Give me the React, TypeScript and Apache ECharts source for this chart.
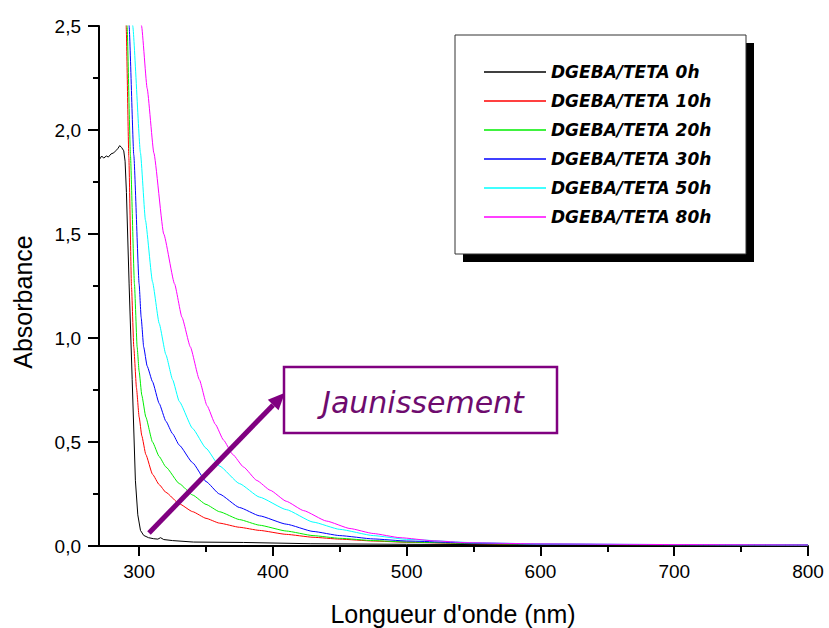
import React, { useEffect, useRef } from "react";
import * as echarts from "echarts";

// ---- Data ----
const seriesNames = [
  "DGEBA/TETA 0h",
  "DGEBA/TETA 10h",
  "DGEBA/TETA 20h",
  "DGEBA/TETA 30h",
  "DGEBA/TETA 50h",
  "DGEBA/TETA 80h",
];
const seriesColors = ["#000000", "#ff0000", "#00ee00", "#0000ff", "#00ffff", "#ff00ff"];

const wl0h = [270, 272, 273.5, 275.5, 277, 279, 281, 282.5, 284, 285.5, 287, 288.5, 289.5, 290.5, 292.5, 294.8, 297.2, 299, 301, 303.4, 307, 310.9, 314, 316, 318.4, 325, 340.7, 378, 427.8, 500, 600, 700, 800];
const abs0h = [1.855, 1.875, 1.865, 1.875, 1.87, 1.885, 1.89, 1.9, 1.91, 1.925, 1.915, 1.9, 1.85, 1.7, 1.26, 0.8, 0.316, 0.15, 0.075, 0.051, 0.04, 0.035, 0.033, 0.04, 0.031, 0.026, 0.019, 0.017, 0.011, 0.008, 0.006, 0.005, 0.004];

const wl10h = [289.8, 290.3, 292.3, 294.3, 296, 298, 300, 302, 305, 310, 315, 320, 330, 340, 350, 360, 375, 390, 410, 430, 450, 475, 500, 550, 600, 700, 800];
const abs10h = [2.9, 2.5, 1.87, 1.246, 0.957, 0.76, 0.62, 0.53, 0.44, 0.345, 0.295, 0.258, 0.203, 0.165, 0.133, 0.11, 0.09, 0.075, 0.056, 0.042, 0.033, 0.024, 0.018, 0.011, 0.008, 0.006, 0.005];

const wl20h = [290.5, 291, 293.5, 296.5, 298.5, 300, 302, 305, 310, 315, 320, 330, 340, 350, 360, 375, 390, 410, 430, 450, 475, 500, 550, 600, 700, 800];
const abs20h = [2.9, 2.5, 1.88, 1.26, 0.957, 0.84, 0.725, 0.62, 0.5, 0.43, 0.38, 0.3, 0.245, 0.2, 0.165, 0.127, 0.1, 0.072, 0.05, 0.037, 0.026, 0.019, 0.012, 0.008, 0.006, 0.005];

const wl30h = [291.8, 292.5, 296, 300, 301.5, 303.4, 306, 310, 315, 320, 325, 330, 340, 350, 360, 375, 390, 410, 430, 450, 475, 500, 550, 600, 700, 800];
const abs30h = [2.9, 2.5, 1.88, 1.26, 1.1, 0.957, 0.865, 0.79, 0.685, 0.6, 0.54, 0.485, 0.4, 0.31, 0.25, 0.185, 0.145, 0.105, 0.07, 0.05, 0.034, 0.024, 0.014, 0.009, 0.006, 0.005];

const wl50h = [294.5, 295.2, 301, 304.7, 310, 315, 320, 325, 330, 340, 350, 360, 375, 390, 410, 430, 450, 475, 500, 550, 600, 700, 800];
const abs50h = [2.9, 2.5, 1.89, 1.567, 1.27, 1.07, 0.92, 0.8, 0.695, 0.565, 0.47, 0.385, 0.3, 0.235, 0.175, 0.115, 0.08, 0.05, 0.032, 0.016, 0.01, 0.007, 0.005];

const wl80h = [300, 301.8, 306, 311, 318.4, 326.5, 332, 338.3, 345, 350.7, 357, 363, 370, 378, 388, 398, 410, 423, 440, 457.6, 475, 495, 520, 545, 600, 700, 800];
const abs80h = [2.62, 2.5, 2.2, 1.89, 1.5, 1.26, 1.1, 0.957, 0.8, 0.675, 0.585, 0.51, 0.44, 0.38, 0.315, 0.268, 0.215, 0.17, 0.12, 0.084, 0.06, 0.04, 0.025, 0.016, 0.01, 0.007, 0.005];

const wavelengths = [wl0h, wl10h, wl20h, wl30h, wl50h, wl80h];
const absorbances = [abs0h, abs10h, abs20h, abs30h, abs50h, abs80h];

const xMajorTicks = [300, 400, 500, 600, 700, 800];
const xMinorTicks = [350, 450, 550, 650, 750];

const xTitle = "Longueur d'onde (nm)";
const yTitle = "Absorbance";
const annotationText = "Jaunissement";

export default function App() {
  const ref = useRef<HTMLDivElement>(null);

  useEffect(() => {
    if (!ref.current) return;
    const chart = echarts.init(ref.current, undefined, { renderer: "svg" });

    const series = seriesNames.map((name, i) => ({
      name,
      type: "line",
      xAxisIndex: 0,
      yAxisIndex: 0,
      data: wavelengths[i].map((w, k) => [w, absorbances[i][k]]),
      symbol: "none",
      showSymbol: false,
      smooth: i === 0 ? false : 0.15,
      smoothMonotone: "x",
      clip: true,
      lineStyle: { color: seriesColors[i], width: 1 },
      itemStyle: { color: seriesColors[i] },
      z: 2,
    }));

    const axisFont = { fontFamily: "'Liberation Sans', Arial, sans-serif", fontSize: 19, color: "#000" };

    // arrow geometry (annotation)
    const tail = [149, 533];
    const tip = [285, 392.7];
    const dx = tip[0] - tail[0];
    const dy = tip[1] - tail[1];
    const len = Math.sqrt(dx * dx + dy * dy);
    const ux = dx / len;
    const uy = dy / len;
    const headLen = 17;
    const headHalf = 7.5;
    const bx = tip[0] - ux * headLen;
    const by = tip[1] - uy * headLen;
    const px = -uy;
    const py = ux;

    chart.setOption({
      animation: false,
      backgroundColor: "#ffffff",
      grid: { left: 99, right: 21, top: 26, bottom: 82, containLabel: false },
      xAxis: [
        {
          type: "value",
          min: 270,
          max: 800,
          axisLine: { show: true, onZero: false, lineStyle: { color: "#000", width: 2 } },
          axisTick: { show: true, length: 10, customValues: xMajorTicks, lineStyle: { color: "#000", width: 2 } },
          axisLabel: { show: true, margin: 16, customValues: xMajorTicks, ...axisFont },
          splitLine: { show: false },
        },
        {
          type: "value",
          min: 270,
          max: 800,
          position: "bottom",
          axisLine: { show: false },
          axisTick: { show: true, length: 6, customValues: xMinorTicks, lineStyle: { color: "#000", width: 2 } },
          axisLabel: { show: false },
          splitLine: { show: false },
        },
      ],
      yAxis: {
        type: "value",
        min: 0,
        max: 2.5,
        interval: 0.5,
        axisLine: { show: true, lineStyle: { color: "#000", width: 2 } },
        axisTick: { show: true, length: 11, lineStyle: { color: "#000", width: 2 } },
        minorTick: { show: true, splitNumber: 2, length: 6, lineStyle: { color: "#000", width: 2 } },
        axisLabel: {
          margin: 18,
          ...axisFont,
          formatter: (v: number) => v.toFixed(1).replace(".", ","),
        },
        splitLine: { show: false },
        minorSplitLine: { show: false },
      },
      legend: {
        show: true,
        orient: "vertical",
        left: 484,
        top: 62,
        padding: 0,
        icon: "rect",
        itemWidth: 62,
        itemHeight: 1.5,
        itemGap: 9,
        selectedMode: false,
        data: seriesNames,
        textStyle: {
          fontFamily: "'DejaVu Sans', sans-serif",
          fontWeight: "bold",
          fontStyle: "italic",
          fontSize: 17,
          lineHeight: 20,
          color: "#000",
        },
      },
      graphic: [
        { type: "rect", z: 1, shape: { x: 463, y: 43, width: 291, height: 219 }, style: { fill: "#000" } },
        { type: "rect", z: 2, shape: { x: 455, y: 35, width: 291, height: 219 }, style: { fill: "#fff", stroke: "#333", lineWidth: 1 } },
        { type: "rect", z: 3, shape: { x: 284, y: 367, width: 273, height: 66 }, style: { fill: "#fff", stroke: "#800080", lineWidth: 2.5 } },
        {
          type: "text",
          z: 4,
          x: 423,
          y: 402,
          style: {
            text: annotationText,
            fill: "#6e0b6e",
            font: "italic 30px 'DejaVu Sans', sans-serif",
            align: "center",
            verticalAlign: "middle",
          },
        },
        {
          type: "line",
          z: 50,
          shape: { x1: tail[0], y1: tail[1], x2: bx, y2: by },
          style: { stroke: "#800080", lineWidth: 5 },
        },
        {
          type: "polygon",
          z: 50,
          shape: {
            points: [
              [tip[0], tip[1]],
              [bx + px * headHalf, by + py * headHalf],
              [bx - px * headHalf, by - py * headHalf],
            ],
          },
          style: { fill: "#800080" },
        },
        {
          type: "text",
          z: 4,
          x: 453,
          y: 614,
          style: {
            text: xTitle,
            fill: "#000",
            font: "25px 'Liberation Sans', Arial, sans-serif",
            align: "center",
            verticalAlign: "middle",
          },
        },
        {
          type: "text",
          z: 4,
          x: 23,
          y: 302,
          rotation: Math.PI / 2,
          style: {
            text: yTitle,
            fill: "#000",
            font: "25px 'Liberation Sans', Arial, sans-serif",
            align: "center",
            verticalAlign: "middle",
          },
        },
      ],
      series,
    });

    return () => {
      chart.dispose();
    };
  }, []);

  return (
    <div
      ref={ref}
      style={{ position: "fixed", left: 0, top: 0, width: 829, height: 628, background: "#fff" }}
    />
  );
}
